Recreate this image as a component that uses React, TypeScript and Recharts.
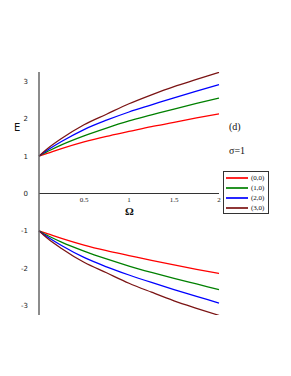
import { LineChart, Line, XAxis, YAxis, ReferenceLine, ReferenceDot } from 'recharts';

const omega = [0, 0.05, 0.1, 0.25, 0.5, 0.75, 1, 1.25, 1.5, 1.75, 2];

// upper branch (E > 0)
const e00Up = [1, 1.04, 1.08, 1.2, 1.38, 1.53, 1.66, 1.79, 1.9, 2.02, 2.13];
const e10Up = [1, 1.07, 1.13, 1.3, 1.54, 1.75, 1.94, 2.1, 2.26, 2.41, 2.55];
const e20Up = [1, 1.09, 1.17, 1.39, 1.71, 1.96, 2.18, 2.37, 2.56, 2.74, 2.91];
const e30Up = [1, 1.11, 1.21, 1.47, 1.84, 2.12, 2.4, 2.64, 2.86, 3.05, 3.24];

// lower branch (E < 0)
const e00Dn = [-1, -1.04, -1.08, -1.2, -1.38, -1.53, -1.66, -1.79, -1.91, -2.03, -2.14];
const e10Dn = [-1, -1.07, -1.13, -1.3, -1.54, -1.75, -1.94, -2.11, -2.27, -2.42, -2.57];
const e20Dn = [-1, -1.09, -1.17, -1.39, -1.71, -1.96, -2.18, -2.38, -2.57, -2.75, -2.93];
const e30Dn = [-1, -1.11, -1.21, -1.47, -1.84, -2.12, -2.4, -2.64, -2.87, -3.07, -3.26];

const yTicks = [-3, -2, -1, 0, 1, 2, 3];
const xTicks = [0.5, 1, 1.5, 2];
const xTickLabels = ['0.5', '1', '1.5', '2'];

const series = [
  { name: '(0,0)', up: 'e00Up', dn: 'e00Dn', color: '#ff0000' },
  { name: '(1,0)', up: 'e10Up', dn: 'e10Dn', color: '#008000' },
  { name: '(2,0)', up: 'e20Up', dn: 'e20Dn', color: '#0000ff' },
  { name: '(3,0)', up: 'e30Up', dn: 'e30Dn', color: '#7b1414' },
];

const data = omega.map((w, i) => ({
  w,
  e00Up: e00Up[i],
  e10Up: e10Up[i],
  e20Up: e20Up[i],
  e30Up: e30Up[i],
  e00Dn: e00Dn[i],
  e10Dn: e10Dn[i],
  e20Dn: e20Dn[i],
  e30Dn: e30Dn[i],
}));

const serif = '"Liberation Serif", "DejaVu Serif", serif';
const sans = '"DejaVu Sans", sans-serif';

export default function App() {
  return (
    <div style={{ position: 'absolute', left: 0, top: 0, width: 291, height: 376, background: '#fff' }}>
      <LineChart width={291} height={376} data={data} margin={{ top: 72, right: 72, bottom: 61, left: 14 }}>
        <XAxis dataKey="w" type="number" domain={[0, 2]} hide />
        <YAxis
          type="number"
          domain={[-3.25, 3.25]}
          ticks={yTicks}
          width={25}
          tickLine={false}
          axisLine={{ stroke: '#666', strokeWidth: 1.5 }}
          tickMargin={5}
          tick={{ fill: '#222', fontSize: 7, fontFamily: sans }}
          allowDataOverflow
        />
        <ReferenceLine y={0} stroke="#333" strokeWidth={1} />
        {xTicks.map((t, i) => (
          <ReferenceDot
            key={t}
            x={t}
            y={0}
            r={0}
            stroke="none"
            label={{ value: xTickLabels[i], position: 'bottom', offset: 4, fontSize: 7, fill: '#222', fontFamily: serif }}
          />
        ))}
        {series.map((s) => (
          <Line
            key={s.up}
            dataKey={s.up}
            type="monotone"
            stroke={s.color}
            strokeWidth={1.3}
            dot={false}
            isAnimationActive={false}
          />
        ))}
        {series.map((s) => (
          <Line
            key={s.dn}
            dataKey={s.dn}
            type="monotone"
            stroke={s.color}
            strokeWidth={1.3}
            dot={false}
            isAnimationActive={false}
          />
        ))}
      </LineChart>
      <div style={{ position: 'absolute', left: 14, top: 122, fontFamily: sans, fontSize: 10, color: '#111' }}>E</div>
      <div style={{ position: 'absolute', left: 125, top: 205, fontFamily: serif, fontSize: 11, fontWeight: 'bold', color: '#111' }}>Ω</div>
      <div style={{ position: 'absolute', left: 229, top: 121, fontFamily: serif, fontSize: 10, color: '#111' }}>(d)</div>
      <div style={{ position: 'absolute', left: 229, top: 145, fontFamily: serif, fontSize: 10, color: '#111' }}>σ=1</div>
      <div
        style={{
          position: 'absolute',
          left: 223,
          top: 171,
          width: 44,
          height: 41,
          border: '1px solid #333',
          background: '#fff',
          boxSizing: 'content-box',
        }}
      >
        {series.map((s, i) => (
          <div key={s.name} style={{ position: 'absolute', left: 2, top: 1 + i * 10, height: 10, display: 'flex', alignItems: 'center' }}>
            <div style={{ width: 22, height: 1.3, background: s.color, opacity: 0.85 }} />
            <span style={{ marginLeft: 3, fontFamily: serif, fontSize: 7, color: '#111' }}>{s.name}</span>
          </div>
        ))}
      </div>
    </div>
  );
}
